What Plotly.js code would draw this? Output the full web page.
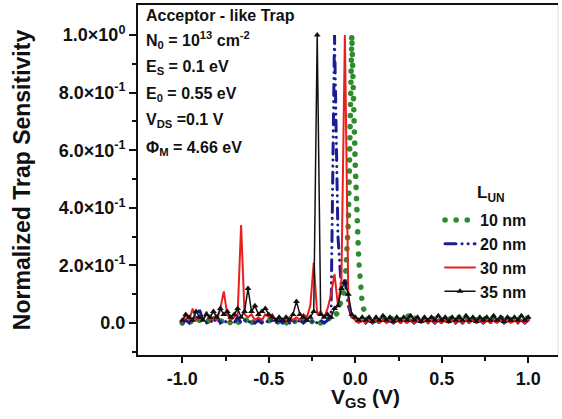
<!DOCTYPE html>
<html>
<head>
<meta charset="utf-8">
<script src="https://cdn.plot.ly/plotly-3.0.1.min.js"></script>
<style>
html,body{margin:0;padding:0;background:#fff;}
#chart{width:562px;height:419px;}
.js-line{stroke-linecap:round;}
</style>
</head>
<body>
<div id="chart"></div>
<script>
// Gate voltage grid (V)
const vgs = [-1.00,-0.98,-0.96,-0.94,-0.92,-0.90,-0.88,-0.86,-0.84,-0.82,
  -0.80,-0.78,-0.76,-0.74,-0.72,-0.70,-0.68,-0.66,-0.64,-0.62,
  -0.60,-0.58,-0.56,-0.54,-0.52,-0.50,-0.48,-0.46,-0.44,-0.42,
  -0.40,-0.38,-0.36,-0.34,-0.32,-0.30,-0.28,-0.26,-0.24,-0.22,
  -0.20,-0.18,-0.16,-0.14,-0.12,-0.10,-0.08,-0.06,-0.04,-0.02,
  0.00,0.02,0.04,0.06,0.08,0.10,0.12,0.14,0.16,0.18,
  0.20,0.22,0.24,0.26,0.28,0.30,0.32,0.34,0.36,0.38,
  0.40,0.42,0.44,0.46,0.48,0.50,0.52,0.54,0.56,0.58,
  0.60,0.62,0.64,0.66,0.68,0.70,0.72,0.74,0.76,0.78,
  0.80,0.82,0.84,0.86,0.88,0.90,0.92,0.94,0.96,0.98,1.00];

const seriesNames = ["10 nm", "20 nm", "30 nm", "35 nm"];

// L_UN = 10 nm
const s10 = [0.00,0.01,0.00,0.01,0.00,0.01,0.00,0.01,0.00,0.02,
  0.00,0.01,0.00,0.01,0.00,0.01,0.00,0.01,0.00,0.02,
  0.00,0.01,0.00,0.01,0.00,0.01,0.00,0.01,0.00,0.01,
  0.00,0.01,0.00,0.01,0.00,0.01,0.00,0.01,0.00,0.01,
  0.00,0.01,0.02,0.01,0.02,0.04,0.08,0.12,0.35,1.00,
  0.55,0.22,0.07,0.02,0.01,0.02,0.01,0.02,0.01,0.03,
  0.02,0.01,0.02,0.01,0.02,0.03,0.01,0.02,0.01,0.02,
  0.01,0.02,0.02,0.01,0.02,0.01,0.02,0.01,0.02,0.01,
  0.02,0.01,0.02,0.01,0.02,0.01,0.02,0.01,0.02,0.01,
  0.02,0.01,0.02,0.01,0.02,0.01,0.02,0.01,0.02,0.01,0.02];

// L_UN = 20 nm
const s20 = [0.00,0.01,0.00,0.02,0.01,0.045,0.01,0.00,0.01,0.00,
  0.02,0.00,0.01,0.00,0.01,0.00,0.02,0.00,0.01,0.00,
  0.01,0.00,0.01,0.00,0.01,0.00,0.01,0.00,0.01,0.00,
  0.01,0.00,0.01,0.00,0.01,0.00,0.01,0.00,0.01,0.00,
  0.01,0.00,0.01,0.03,1.00,0.30,0.12,0.15,0.06,0.02,
  0.01,0.00,0.01,0.00,0.01,0.00,0.01,0.00,0.01,0.00,
  0.01,0.00,0.01,0.00,0.01,0.00,0.01,0.00,0.01,0.00,
  0.01,0.00,0.01,0.00,0.01,0.00,0.01,0.00,0.01,0.00,
  0.01,0.00,0.01,0.00,0.01,0.00,0.01,0.00,0.01,0.00,
  0.01,0.00,0.01,0.00,0.01,0.00,0.01,0.00,0.01,0.00,0.01];

// L_UN = 30 nm
const s30 = [0.00,0.03,0.01,0.05,0.01,0.02,0.01,0.04,0.01,0.02,
  0.01,0.05,0.11,0.03,0.01,0.02,0.03,0.34,0.03,0.02,
  0.03,0.01,0.02,0.01,0.03,0.02,0.03,0.01,0.02,0.01,
  0.01,0.02,0.01,0.02,0.01,0.03,0.02,0.06,0.21,0.03,
  0.04,0.02,0.05,0.10,0.17,0.06,0.15,1.00,0.08,0.02,
  0.01,0.00,0.01,0.00,0.01,0.00,0.01,0.00,0.01,0.00,
  0.01,0.00,0.01,0.00,0.01,0.00,0.01,0.00,0.01,0.00,
  0.01,0.00,0.01,0.00,0.01,0.00,0.01,0.00,0.01,0.00,
  0.01,0.00,0.01,0.00,0.01,0.00,0.01,0.00,0.01,0.00,
  0.01,0.00,0.01,0.00,0.01,0.00,0.01,0.00,0.01,0.00,0.01];

// L_UN = 35 nm
const s35 = [0.01,0.03,0.02,0.01,0.04,0.02,0.01,0.03,0.02,0.04,
  0.02,0.05,0.03,0.04,0.02,0.03,0.05,0.02,0.04,0.12,
  0.04,0.06,0.03,0.04,0.05,0.03,0.02,0.01,0.02,0.01,
  0.02,0.01,0.03,0.075,0.03,0.02,0.01,0.02,0.04,1.00,
  0.03,0.02,0.03,0.02,0.05,0.06,0.12,0.14,0.10,0.03,
  0.02,0.01,0.02,0.01,0.02,0.005,0.02,0.01,0.025,0.01,
  0.02,0.005,0.02,0.01,0.02,0.01,0.025,0.01,0.02,0.005,
  0.02,0.01,0.02,0.01,0.025,0.01,0.02,0.005,0.02,0.01,
  0.02,0.01,0.025,0.01,0.02,0.005,0.02,0.01,0.02,0.01,
  0.025,0.01,0.02,0.005,0.02,0.01,0.02,0.01,0.025,0.01,0.02];

const yTickVals = [0, 0.2, 0.4, 0.6, 0.8, 1.0];
const yTickText = ["0.0", "2.0×10<sup>-1</sup>", "4.0×10<sup>-1</sup>", "6.0×10<sup>-1</sup>", "8.0×10<sup>-1</sup>", "1.0×10<sup>0</sup>"];
const xTickVals = [-1.0, -0.5, 0.0, 0.5, 1.0];
const xTickText = ["-1.0", "-0.5", "0.0", "0.5", "1.0"];

const infoLines = [
  "Acceptor - like Trap",
  "N<sub>0</sub> = 10<sup>13</sup> cm<sup>-2</sup>",
  "E<sub>S</sub> = 0.1 eV",
  "E<sub>0</sub> = 0.55 eV",
  "V<sub>DS</sub> =0.1 V",
  "Φ<sub>M</sub> = 4.66 eV"
];
const xTitle = "V<sub>GS</sub> (V)";
const yTitle = "Normalized Trap Sensitivity";
const legendTitle = "L<sub>UN</sub>";

const FONT = "Liberation Sans, Arial, sans-serif";

const traces = [
  {x: vgs, y: s10, name: seriesNames[0], mode: "lines",
   line: {color: "#2e8b2e", width: 5.5, dash: "0.1px,11px"}},
  {x: vgs, y: s20, name: seriesNames[1], mode: "lines",
   line: {color: "#1c1c96", width: 3, dash: "11px,6px,0.1px,6px,0.1px,6px"}},
  {x: vgs, y: s30, name: seriesNames[2], mode: "lines",
   line: {color: "#e8201e", width: 2}},
  {x: vgs, y: s35, name: seriesNames[3], mode: "lines+markers",
   line: {color: "#111111", width: 1.5},
   marker: {symbol: "triangle-up", size: 6, color: "#111111"}}
];

const pxY = py => (355 - py) / 350;
const pxX = px => (px - 138) / 420;
const infoY = [15, 40, 67, 94, 121, 148];

const annotations = infoLines.map((t, i) => ({
  text: t, xref: "paper", yref: "paper", x: pxX(144), y: pxY(infoY[i]),
  xanchor: "left", yanchor: "middle", showarrow: false,
  font: {family: FONT, size: 16, color: "#111", weight: "bold"}
}));
annotations.push({
  text: legendTitle, xref: "paper", yref: "paper", x: pxX(491), y: pxY(194),
  xanchor: "center", yanchor: "middle", showarrow: false,
  font: {family: FONT, size: 17, color: "#111", weight: "bold"}
});
annotations.push({
  text: xTitle, xref: "paper", yref: "paper", x: pxX(365), y: pxY(398),
  xanchor: "center", yanchor: "middle", showarrow: false,
  font: {family: FONT, size: 21, color: "#111", weight: "bold"}
});

const layout = {
  width: 562, height: 419,
  margin: {l: 138, r: 4, t: 5, b: 64},
  paper_bgcolor: "#fff", plot_bgcolor: "#fff",
  showlegend: true,
  legend: {x: pxX(440), y: pxY(203), xanchor: "left", yanchor: "top",
    bgcolor: "rgba(0,0,0,0)", font: {family: FONT, size: 16, color: "#111", weight: "bold"},
    tracegroupgap: 0},
  xaxis: {
    range: [-1.256, 1.172], showgrid: false, zeroline: false,
    showline: true, linecolor: "#111", linewidth: 2, mirror: true,
    ticks: "outside", ticklen: 6, tickwidth: 2, tickcolor: "#111",
    tickvals: xTickVals, ticktext: xTickText,
    minor: {tickvals: [-0.75, -0.25, 0.25, 0.75], ticks: "outside", ticklen: 4, tickwidth: 2, tickcolor: "#111"},
    tickfont: {family: FONT, size: 18, color: "#111", weight: "bold"}
  },
  yaxis: {
    range: [-0.111, 1.104], showgrid: false, zeroline: false,
    showline: true, linecolor: "#111", linewidth: 2, mirror: false,
    ticks: "outside", ticklen: 7, tickwidth: 2, tickcolor: "#111",
    tickvals: yTickVals, ticktext: yTickText,
    minor: {tickvals: [-0.1, 0.1, 0.3, 0.5, 0.7, 0.9], ticks: "outside", ticklen: 4, tickwidth: 2, tickcolor: "#111"},
    tickfont: {family: FONT, size: 18, color: "#111", weight: "bold"},
    title: {text: yTitle, standoff: 22,
      font: {family: FONT, size: 23, color: "#111", weight: "bold"}}
  },
  shapes: [{type: "line", xref: "paper", yref: "paper", x0: 1, x1: 1, y0: 0, y1: 1,
    line: {color: "#dddddd", width: 1}}],
  annotations: annotations
};

Plotly.newPlot("chart", traces, layout, {displayModeBar: false, staticPlot: true});
</script>
</body>
</html>
